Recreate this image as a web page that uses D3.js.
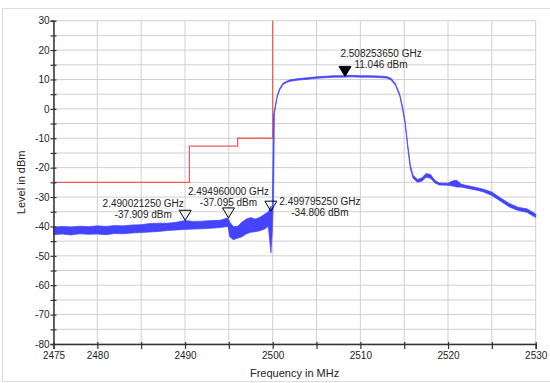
<!DOCTYPE html>
<html>
<head>
<meta charset="utf-8">
<script src="https://cdn.jsdelivr.net/npm/d3@7"></script>
<style>
  body { margin: 0; background: #fff; }
  text { font-family: "Liberation Sans", Arial, sans-serif; fill: #222; }
</style>
</head>
<body>
<div id="chart"></div>
<script>
// spectrum trace (upper / lower edge of the noise)
var traceFreq = [2475, 2476, 2477, 2478, 2479, 2480, 2481, 2482, 2483, 2484, 2485, 2486, 2487, 2488, 2489, 2490,
  2491, 2492, 2493, 2494, 2494.9, 2495.1, 2495.5, 2496, 2496.5, 2497, 2497.5, 2498, 2498.5, 2499, 2499.5, 2499.8,
  2499.95, 2500.1, 2500.2, 2500.5, 2500.8, 2501.2, 2501.6, 2502, 2503, 2504, 2505, 2506, 2507, 2508, 2509, 2510,
  2511, 2512, 2513, 2513.5, 2514, 2514.5, 2514.8, 2515.1, 2515.4, 2515.7, 2516, 2516.5, 2517, 2517.5, 2518,
  2518.5, 2519, 2520, 2520.5, 2521, 2521.5, 2522, 2523, 2524, 2525, 2526, 2527, 2528, 2529, 2530];
var traceHigh = [-40.3, -40.0, -40.2, -39.9, -40.1, -39.8, -40.0, -39.7, -39.8, -39.5, -39.4, -39.0, -38.9, -38.9, -38.6, -38.0,
  -38.3, -38.2, -38.0, -37.9, -37.1, -38.5, -40.0, -40.0, -38.5, -37.5, -37.0, -37.5, -37.0, -36.0, -35.0, -33.0,
  -35.0, -2.0, -0.5, 4.5, 7.0, 8.8, 9.4, 9.9, 10.3, 10.6, 10.9, 11.1, 11.3, 11.3, 11.4, 11.3,
  11.3, 11.2, 11.0, 10.4, 8.6, 5.0, 1.0, -4.0, -12.0, -19.0, -22.5, -24.0, -23.5, -22.0, -22.3,
  -24.3, -25.2, -25.3, -24.5, -24.3, -25.6, -26.0, -26.6, -27.3, -28.3, -30.3, -32.2, -33.5, -34.0, -35.8];
var traceLow = [-42.8, -42.6, -42.9, -42.5, -42.7, -42.6, -42.8, -42.4, -42.5, -42.2, -42.1, -41.9, -41.7, -41.4, -41.2, -41.0,
  -40.9, -40.8, -40.6, -40.4, -40.0, -43.5, -44.5, -44.0, -43.5, -42.5, -42.0, -41.8, -41.5, -41.0, -40.0, -49.0,
  -42.0, -30.0, -1.5, 3.8, 6.4, 8.3, 9.0, 9.4, 9.8, 10.1, 10.4, 10.6, 10.8, 10.8, 10.9, 10.8,
  10.8, 10.7, 10.5, 9.8, 8.0, 4.3, 0.0, -5.0, -13.2, -20.3, -23.5, -25.0, -24.6, -23.3, -23.6,
  -25.2, -25.9, -26.0, -26.2, -26.6, -26.6, -26.9, -27.5, -28.2, -29.5, -31.4, -33.4, -34.6, -35.2, -37.0];

// limit line (steps)
var limitFreq = [2475, 2490.5, 2496, 2500];
var limitLevel = [-25, -12.7, -10, 30];

// markers
var markerFreq = [2490.02125, 2494.96, 2499.79525, 2508.25365];
var markerLevel = [-37.909, -37.095, -34.806, 11.046];
var markerFilled = [false, false, false, true];

// axis ticks
var xTickLabels = [2475, 2480, 2490, 2500, 2510, 2520, 2530];
var yTickLabels = [30, 20, 10, 0, -10, -20, -30, -40, -50, -60, -70, -80];

var width = 550, height = 383;
var plotLeft = 53.5, plotRight = 535.7, plotTop = 20.7, plotBottom = 344;

var svg = d3.select("#chart").append("svg")
  .attr("width", width)
  .attr("height", height);

// outer frame
svg.append("rect")
  .attr("x", 2.5).attr("y", 8.5)
  .attr("width", 560).attr("height", 373)
  .attr("fill", "none").attr("stroke", "#dcdcdc");

var x = d3.scaleLinear().domain([2475, 2530]).range([plotLeft, plotRight]);
var y = d3.scaleLinear().domain([-80, 30]).range([plotBottom, plotTop]);

// grid
var grid = svg.append("g").attr("stroke", "#cfcfcf").attr("stroke-width", 1);
grid.selectAll("line.v")
  .data(d3.range(2475, 2531, 5))
  .enter().append("line")
  .attr("x1", function(d) { return x(d); })
  .attr("x2", function(d) { return x(d); })
  .attr("y1", plotTop).attr("y2", plotBottom);
grid.selectAll("line.h")
  .data(d3.range(-80, 31, 5))
  .enter().append("line")
  .attr("y1", function(d) { return y(d); })
  .attr("y2", function(d) { return y(d); })
  .attr("x1", plotLeft).attr("x2", plotRight);

// limit line
var limitData = limitFreq.map(function(f, i) { return [f, limitLevel[i]]; });
svg.append("path")
  .datum(limitData)
  .attr("fill", "none")
  .attr("stroke", "#f25c5c")
  .attr("stroke-width", 1.3)
  .attr("d", d3.line()
    .x(function(d) { return x(d[0]); })
    .y(function(d) { return y(d[1]); })
    .curve(d3.curveStepAfter));

// trace band
var traceData = traceFreq.map(function(f, i) { return { f: f, hi: traceHigh[i], lo: traceLow[i] }; });
svg.append("path")
  .datum(traceData)
  .attr("fill", "#4444ff")
  .attr("stroke", "#4444ff")
  .attr("stroke-width", 0.7)
  .attr("d", d3.area()
    .x(function(d) { return x(d.f); })
    .y0(function(d) { return y(d.lo); })
    .y1(function(d) { return y(d.hi); }));

// axes
var xAxis = svg.append("g").attr("transform", "translate(0," + plotBottom + ")");
xAxis.call(d3.axisBottom(x).tickValues(d3.range(2475, 2531, 5)).tickSize(5).tickFormat(function(d) {
  return xTickLabels.indexOf(d) >= 0 ? d : "";
}));
var yAxis = svg.append("g").attr("transform", "translate(" + plotLeft + ",0)");
yAxis.call(d3.axisLeft(y).tickValues(d3.range(-80, 31, 5)).tickSize(3).tickFormat(function(d) {
  return yTickLabels.indexOf(d) >= 0 ? d : "";
}));
[xAxis, yAxis].forEach(function(a) {
  a.select(".domain").attr("stroke", "#333").attr("stroke-width", 1.5);
  a.selectAll(".tick line").attr("stroke", "#333").attr("stroke-width", 1.2);
  a.selectAll(".tick text").attr("font-size", 10).attr("fill", "#222")
    .style("font-family", "'Liberation Sans', Arial, sans-serif");
});
xAxis.selectAll(".tick text").attr("y", 8);
yAxis.selectAll(".tick line").attr("x1", 3);
yAxis.selectAll(".tick text").attr("x", -4);
xAxis.selectAll(".tick line").attr("y1", -2);

// axis titles
svg.append("text")
  .attr("x", (plotLeft + plotRight) / 2).attr("y", 377)
  .attr("text-anchor", "middle").attr("font-size", 11)
  .text("Frequency in MHz");
svg.append("text")
  .attr("transform", "translate(25," + (plotTop + plotBottom) / 2 + ") rotate(-90)")
  .attr("text-anchor", "middle").attr("font-size", 11)
  .text("Level in dBm");

// markers with labels
var labelDx = [-42, 0, 49, 36];
var labelDy = [-13.7, -23, -6.2, -19.4];
markerFreq.forEach(function(f, i) {
  var mx = x(f), my = y(markerLevel[i]);
  svg.append("path")
    .attr("d", "M" + (mx - 6) + "," + (my - 10) + "L" + (mx + 6) + "," + (my - 10) + "L" + mx + "," + my + "Z")
    .attr("fill", markerFilled[i] ? "#000" : "#fff")
    .attr("fill-opacity", markerFilled[i] ? 1 : 0)
    .attr("stroke", "#000").attr("stroke-width", 1);
  var t = svg.append("text")
    .attr("text-anchor", "middle").attr("font-size", 10);
  t.append("tspan").attr("x", mx + labelDx[i]).attr("y", my + labelDy[i])
    .text((f / 1000).toFixed(9) + " GHz");
  t.append("tspan").attr("x", mx + labelDx[i]).attr("y", my + labelDy[i] + 11)
    .text(markerLevel[i].toFixed(3) + " dBm");
});
</script>
</body>
</html>
